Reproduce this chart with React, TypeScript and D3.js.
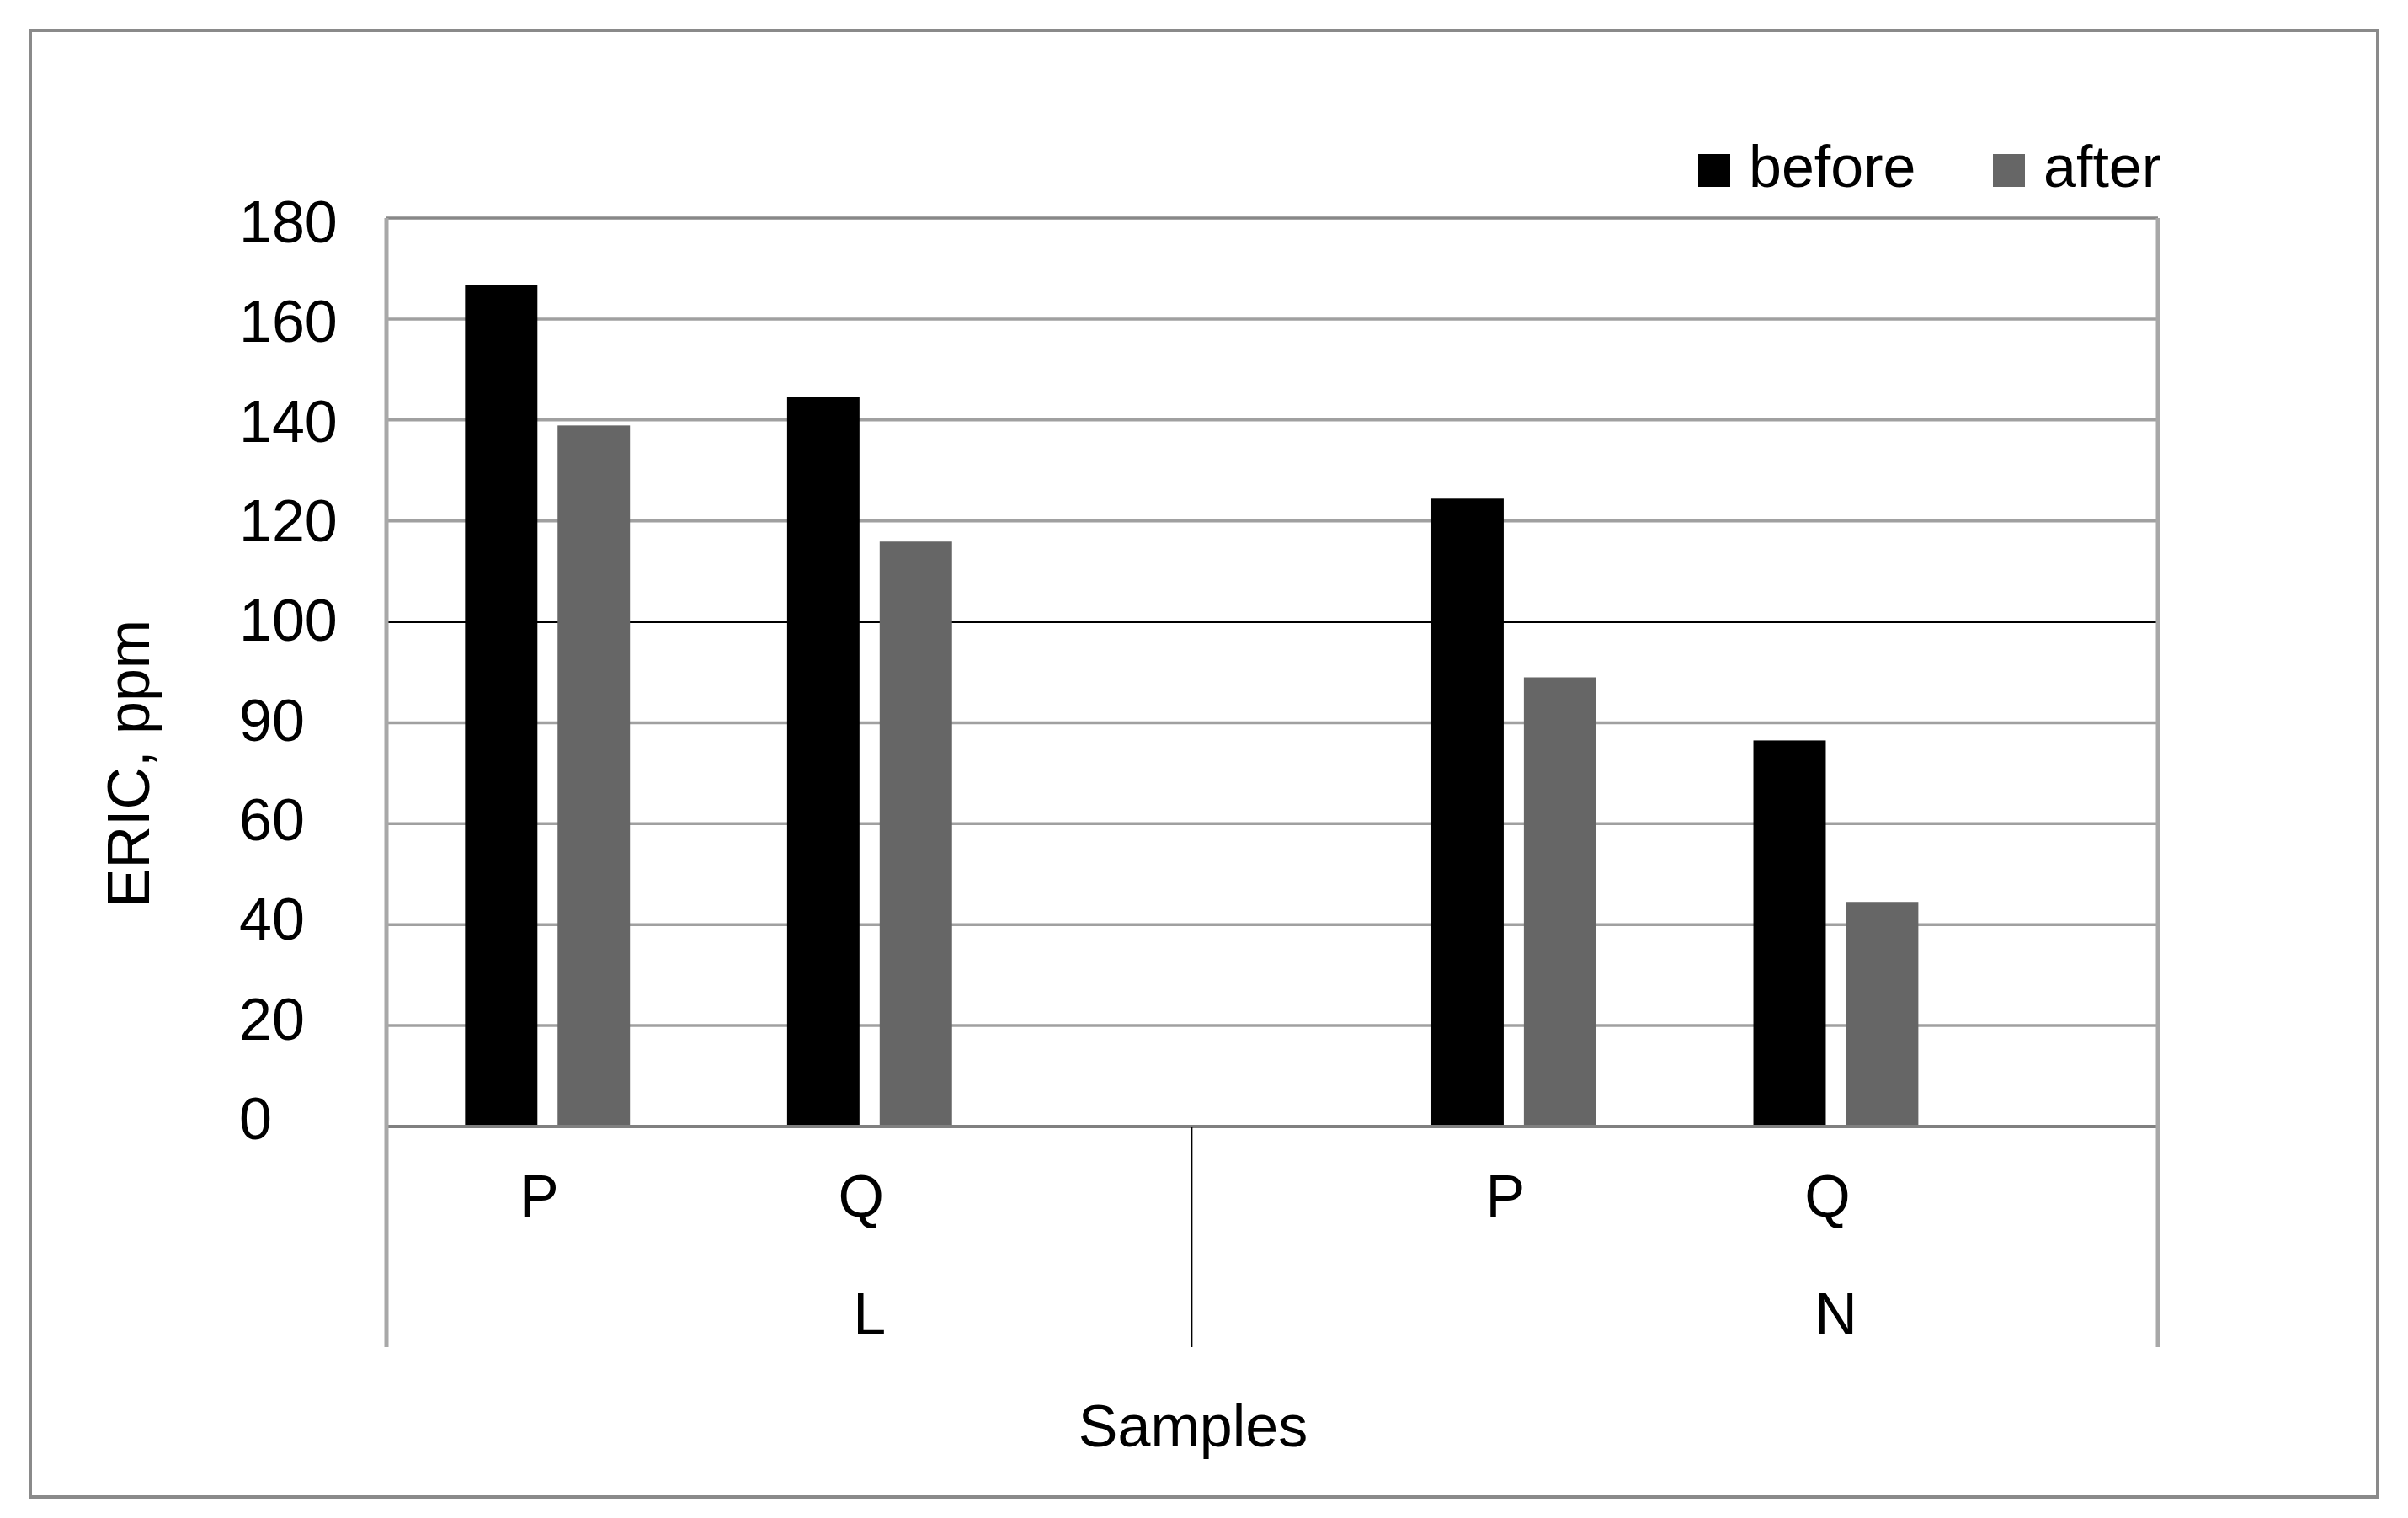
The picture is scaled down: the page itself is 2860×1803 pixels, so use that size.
import React from "react";
import * as d3 from "d3";

// ---- data ----
const seriesNames = ["before", "after"];
const seriesColors = ["#000000", "#666666"];
const groupNames = ["L", "N"];
const categoryLabels = ["P", "Q", "P", "Q"];
const categoryGroups = ["L", "L", "N", "N"];
const categorySlots = [0, 1, 3, 4];
const beforeValues = [166.8, 144.6, 124.4, 76.5];
const afterValues = [138.9, 115.9, 89.0, 44.5];
const yTickValues = [0, 20, 40, 60, 80, 100, 120, 140, 160, 180];
const yTickLabels = ["0", "20", "40", "60", "90", "100", "120", "140", "160", "180"];
const groupSpans = [[0, 2.5], [2.5, 5.5]];
const groupLabelSlots = [1.5, 4.5];

const W = 2860, H = 1803;
const plot = { left: 459, right: 2563, top: 259, bottom: 1338 };
const axisBottom = 1600;
const FONT = "'Liberation Sans', Arial, sans-serif";

export default function App() {
  const y = d3.scaleLinear().domain([0, 180]).range([plot.bottom, plot.top]);
  const yLabel = d3.scaleLinear().domain([0, 180]).range([plot.bottom + 15, plot.top + 29]);
  const x = d3.scaleLinear().domain([0, 5.5]).range([plot.left, plot.right]);
  const inner = d3.scaleBand().domain(seriesNames).range([-0.256, 0.256]).paddingInner(0.218).paddingOuter(0);
  const bw = x(inner.bandwidth()) - x(0);
  const values = [beforeValues, afterValues];

  const gridColor = (t: number) => (t === 100 ? "#000" : t === 180 ? "#888" : "#a0a0a0");

  return (
    <svg width={W} height={H} style={{ position: "absolute", left: 0, top: 0, background: "#fff" }} fontFamily={FONT}>
      <rect x={0} y={0} width={W} height={H} fill="#fff" />
      <rect x={36} y={36} width={2788} height={1742} fill="none" stroke="#8a8a8a" strokeWidth={4} />

      {/* gridlines */}
      {yTickValues.map((t) => (
        <line key={"g" + t} x1={plot.left} x2={plot.right} y1={y(t)} y2={y(t)}
          stroke={gridColor(t)} strokeWidth={t === 100 ? 3 : 3.5} />
      ))}

      {/* bars */}
      {values.map((vals, si) =>
        vals.map((v, ci) => (
          <rect key={`b${si}-${ci}`}
            x={x(categorySlots[ci] + 0.5 + (inner(seriesNames[si]) as number))}
            y={y(v)} width={bw} height={y(0) - y(v)} fill={seriesColors[si]} />
        ))
      )}

      {/* axis lines */}
      <line x1={plot.left} x2={plot.right} y1={y(0)} y2={y(0)} stroke="#808080" strokeWidth={4} />
      <line x1={plot.left} x2={plot.left} y1={plot.top} y2={axisBottom} stroke="#a8a8a8" strokeWidth={5} />
      <line x1={plot.right} x2={plot.right} y1={plot.top} y2={axisBottom} stroke="#a8a8a8" strokeWidth={5} />
      {groupSpans.slice(1).map((s, i) => (
        <line key={"d" + i} x1={x(s[0])} x2={x(s[0])} y1={y(0)} y2={axisBottom} stroke="#000" strokeWidth={2} />
      ))}

      {/* y tick labels */}
      {yTickValues.map((t, i) => (
        <text key={"yl" + t} x={284} y={yLabel(t)} fontSize={70} fill="#000">{yTickLabels[i]}</text>
      ))}

      {/* y title */}
      <text transform={`translate(177,907) rotate(-90)`} textAnchor="middle" fontSize={70} fill="#000">ERIC, ppm</text>

      {/* category labels */}
      {categoryLabels.map((c, i) => (
        <text key={"c" + i} x={x(categorySlots[i] + 0.5) - 10} y={1445} textAnchor="middle" fontSize={70} fill="#000">{c}</text>
      ))}
      {groupNames.map((g, i) => (
        <text key={"gr" + g} x={x(groupLabelSlots[i])} y={1585} textAnchor="middle" fontSize={70} fill="#000">{g}</text>
      ))}

      <text x={1417} y={1718} textAnchor="middle" fontSize={70} fill="#000">Samples</text>

      {/* legend */}
      {seriesNames.map((s, i) => {
        const lx = [2017, 2367][i];
        return (
          <g key={"lg" + s}>
            <rect x={lx} y={183} width={38} height={39} fill={seriesColors[i]} />
            <text x={lx + 60} y={222} fontSize={70} fill="#000">{s}</text>
          </g>
        );
      })}
    </svg>
  );
}
